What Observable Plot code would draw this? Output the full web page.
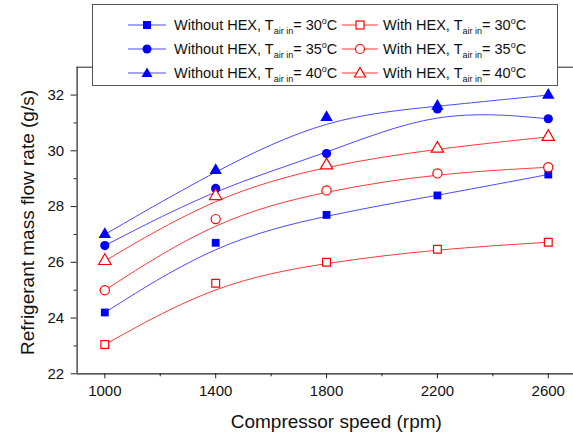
<!DOCTYPE html>
<html>
<head>
<meta charset="utf-8">
<script src="https://cdn.jsdelivr.net/npm/d3@7"></script>
<script src="https://cdn.jsdelivr.net/npm/@observablehq/plot@0.6"></script>
<style>
  html, body { margin: 0; padding: 0; background: #fff; overflow: hidden; }
  #wrap { position: relative; width: 573px; height: 432px; font-family: "Liberation Sans", Arial, sans-serif; }
  #legend { position: absolute; left: 92px; top: 4px; width: 464px; height: 80px; border: 1px solid #555; background: #fff; box-sizing: content-box; }
  .item { position: absolute; display: flex; align-items: center; height: 20px; font-size: 14.5px; color: #111; white-space: nowrap; }
  .item svg { display: block; }
  .item sub { font-size: 9px; vertical-align: -4px; line-height: 0; }
  .item sup { font-size: 9px; vertical-align: 6px; line-height: 0; }
</style>
</head>
<body>
<div id="wrap"><div id="chart"></div><div id="legend"></div></div>
<script>
// ---- data ----
const speeds = [1000, 1400, 1800, 2200, 2600];
const withoutHex30 = [24.2, 26.7, 27.7, 28.4, 29.15];
const withoutHex35 = [26.6, 28.65, 29.9, 31.5, 31.15];
const withoutHex40 = [27.0, 29.3, 31.2, 31.6, 32.0];
const withHex30 = [23.05, 25.25, 26.0, 26.47, 26.72];
const withHex35 = [25.0, 27.55, 28.58, 29.19, 29.41];
const withHex40 = [26.05, 28.38, 29.48, 30.08, 30.5];
const xTicks = [1000, 1400, 1800, 2200, 2600];
const xMinorTicks = [1200, 1600, 2000, 2400];
const yTicks = [22, 24, 26, 28, 30, 32];
const yMinorTicks = [23, 25, 27, 29, 31];

const series = [
  {key: "Without HEX", temp: 30, values: withoutHex30, symbol: "square", filled: true},
  {key: "Without HEX", temp: 35, values: withoutHex35, symbol: "circle", filled: true},
  {key: "Without HEX", temp: 40, values: withoutHex40, symbol: "triangle", filled: true},
  {key: "With HEX", temp: 30, values: withHex30, symbol: "square", filled: false},
  {key: "With HEX", temp: 35, values: withHex35, symbol: "circle", filled: false},
  {key: "With HEX", temp: 40, values: withHex40, symbol: "triangle", filled: false}
];

const blueM = "#0000ff", blueL = "#4a4aff", redM = "#ff0000", redL = "#ff3838";

const marks = [];
for (const s of series) {
  const rows = speeds.map((sp, i) => ({speed: sp, value: s.values[i]}));
  marks.push(Plot.line(rows, {x: "speed", y: "value", curve: "basis",
    stroke: s.filled ? blueL : redL, strokeWidth: 1}));
}
for (const s of series) {
  const rows = speeds.map((sp, i) => ({speed: sp, value: s.values[i]}));
  const r = s.symbol === "triangle" ? 4.6 : (s.symbol === "square" ? 4.4 : 4.6);
  marks.push(Plot.dot(rows, {x: "speed", y: "value", symbol: () => s.symbol, r,
    fill: s.filled ? blueM : "white", stroke: s.filled ? "none" : redM, strokeWidth: 1.2}));
}

const fmt = d3.format("d");
const chart = Plot.plot({
  width: 573,
  height: 432,
  marginLeft: 76.6,
  marginRight: 0,
  marginTop: 66.7,
  marginBottom: 58.7,
  style: {fontFamily: "'Liberation Sans', Arial, sans-serif", background: "transparent", color: "#111"},
  x: {domain: [900, 2691], axis: null},
  y: {domain: [22, 33], axis: null},
  symbol: {type: "identity"},
  marks: [
    Plot.ruleY([33], {stroke: "#222", strokeWidth: 1}),
    Plot.ruleY([22], {stroke: "#222", strokeWidth: 1.2}),
    Plot.ruleX([900], {stroke: "#222", strokeWidth: 1.2}),
    Plot.axisX({ticks: xTicks, tickSize: 5, tickPadding: 7, fontSize: 15, tickFormat: fmt, label: null, stroke: "#222"}),
    Plot.axisX({ticks: xMinorTicks, tickSize: 3, tickFormat: () => "", label: null, stroke: "#222"}),
    Plot.axisY({ticks: yTicks, tickSize: 6, tickPadding: 7, fontSize: 15, tickFormat: fmt, label: null, stroke: "#222"}),
    Plot.axisY({ticks: yMinorTicks, tickSize: 3, tickFormat: () => "", label: null, stroke: "#222"}),
    ...marks,
    Plot.text(["Compressor speed (rpm)"], {text: d => d, frameAnchor: "bottom", textAnchor: "middle", lineAnchor: "middle", dx: 11, dy: 48, fontSize: 19}),
    Plot.text(["Refrigerant mass flow rate (g/s)"], {text: d => d, frameAnchor: "left", textAnchor: "middle", lineAnchor: "middle", rotate: -90, dx: -49, dy: 2, fontSize: 19})
  ]
});
document.getElementById("chart").appendChild(chart);

// ---- legend ----
function symbolSvg(s, w) {
  const col = s.filled ? blueL : redL;
  const mc = s.filled ? blueM : redM;
  const cx = w / 2, cy = 10;
  let m;
  const fill = s.filled ? mc : "white";
  const stroke = s.filled ? "none" : mc;
  if (s.symbol === "square") m = `<rect x="${cx-4}" y="${cy-4}" width="8" height="8" fill="${fill}" stroke="${stroke}" stroke-width="1.2"/>`;
  else if (s.symbol === "circle") m = `<circle cx="${cx}" cy="${cy}" r="4.5" fill="${fill}" stroke="${stroke}" stroke-width="1.2"/>`;
  else m = `<polygon points="${cx},${cy-5.5} ${cx+5.5},${cy+4} ${cx-5.5},${cy+4}" fill="${fill}" stroke="${stroke}" stroke-width="1.2"/>`;
  return `<svg width="${w}" height="20"><line x1="0" x2="${w}" y1="${cy}" y2="${cy}" stroke="${col}" stroke-width="1"/>${m}</svg>`;
}
const legend = document.getElementById("legend");
series.forEach((s, i) => {
  const col = s.filled ? 0 : 1;
  const row = i % 3;
  const div = document.createElement("div");
  div.className = "item";
  div.style.left = (col === 0 ? 35 : 249) + "px";
  div.style.top = (10 + row * 24) + "px";
  const w = col === 0 ? 38 : 36;
  const gap = col === 0 ? 8 : 5;
  div.innerHTML = symbolSvg(s, w) + `<span style="margin-left:${gap}px">${s.key}, T<sub>air in</sub>= ${s.temp}<sup>o</sup>C</span>`;
  legend.appendChild(div);
});
</script>
</body>
</html>
